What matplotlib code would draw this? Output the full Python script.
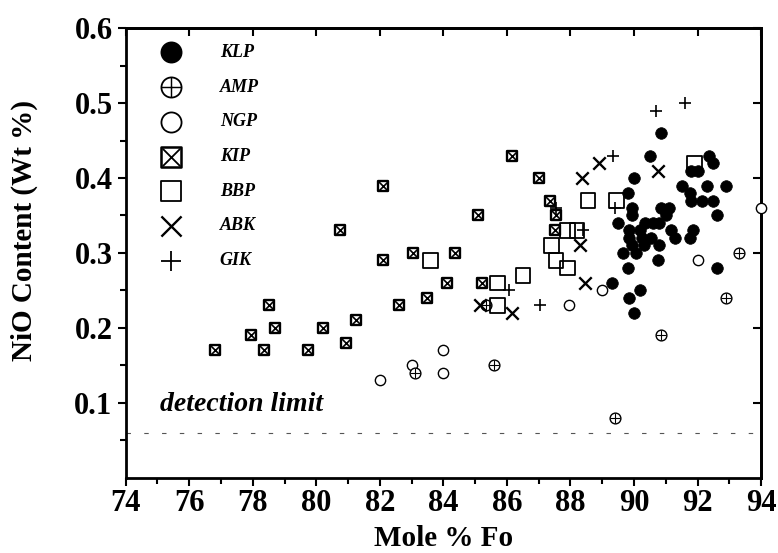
import numpy as np
import matplotlib as mpl
mpl.use('Agg')
import matplotlib.pyplot as plt

mpl.rcParams['font.family'] = 'Liberation Serif'
mpl.rcParams['font.weight'] = 'bold'

# olivine NiO vs forsterite content, one group per locality
klp_x = [90.85, 90.5, 92.35, 92.5, 91.8, 92.0, 90.0, 91.5, 92.3, 92.9,
         91.75, 89.8, 91.8, 92.15, 92.5, 89.95, 90.85, 91.1, 92.6, 89.95,
         91.0, 89.5, 90.35, 90.6, 90.8, 89.85, 90.2, 91.15, 91.85, 90.55,
         91.3, 91.75, 89.85, 90.25, 90.8, 89.95, 90.3, 89.65, 90.05, 90.75,
         89.8, 92.6, 89.3, 90.2, 89.85, 90.0]
klp_y = [0.46, 0.43, 0.43, 0.42, 0.41, 0.41, 0.40, 0.39, 0.39, 0.39,
         0.38, 0.38, 0.37, 0.37, 0.37, 0.36, 0.36, 0.36, 0.35, 0.35,
         0.35, 0.34, 0.34, 0.34, 0.34, 0.33, 0.33, 0.33, 0.33, 0.32,
         0.32, 0.32, 0.32, 0.32, 0.31, 0.31, 0.31, 0.30, 0.30, 0.29,
         0.28, 0.28, 0.26, 0.25, 0.24, 0.22]

amp_x = [83.1, 85.6, 85.35, 89.4, 93.3, 92.9, 90.85]
amp_y = [0.14, 0.15, 0.23, 0.08, 0.30, 0.24, 0.19]

ngp_x = [82.0, 83.0, 84.0, 84.0, 87.95, 89.0, 92.0, 94.0]
ngp_y = [0.13, 0.15, 0.17, 0.14, 0.23, 0.25, 0.29, 0.36]

kip_x = [76.8, 77.95, 78.35, 78.5, 78.7, 79.75, 80.2, 80.95, 81.25, 80.75,
         82.1, 82.1, 82.6, 83.05, 83.5, 84.1, 84.35, 85.1, 85.2, 86.15,
         87.0, 87.35, 87.55, 87.5]
kip_y = [0.17, 0.19, 0.17, 0.23, 0.20, 0.17, 0.20, 0.18, 0.21, 0.33,
         0.39, 0.29, 0.23, 0.30, 0.24, 0.26, 0.30, 0.35, 0.26, 0.43,
         0.40, 0.37, 0.35, 0.33]

bbp_x = [83.6, 85.7, 85.7, 86.5, 87.4, 87.55, 87.9, 87.9, 88.2, 88.55, 89.45, 91.9]
bbp_y = [0.29, 0.26, 0.23, 0.27, 0.31, 0.29, 0.28, 0.33, 0.33, 0.37, 0.37, 0.42]

abk_x = [85.15, 86.15, 88.45, 88.3, 88.35, 88.9, 90.75]
abk_y = [0.23, 0.22, 0.26, 0.31, 0.40, 0.42, 0.41]

gik_x = [89.35, 89.4, 88.4, 86.05, 87.05, 87.55, 90.7, 91.6]
gik_y = [0.43, 0.36, 0.33, 0.25, 0.23, 0.36, 0.49, 0.50]

groups = ['KLP', 'AMP', 'NGP', 'KIP', 'BBP', 'ABK', 'GIK']
detection_limit = 0.06

fig = plt.figure(figsize=(7.78, 5.53), dpi=100)
ax = fig.add_axes([0.1616, 0.1365, 0.8166, 0.8123])


def draw(axis, kind, x, y, s, lw, **kw):
    # each locality has its own symbol; some are built from two markers
    if kind == 'KLP':
        axis.scatter(x, y, s=s, marker='o', c='black', edgecolors='black', linewidths=lw, **kw)
    elif kind == 'AMP':
        axis.scatter(x, y, s=s, marker='o', facecolors='white', edgecolors='black', linewidths=lw, **kw)
        axis.scatter(x, y, s=s, marker='+', c='black', linewidths=lw * 0.8, **kw)
    elif kind == 'NGP':
        axis.scatter(x, y, s=s, marker='o', facecolors='white', edgecolors='black', linewidths=lw, **kw)
    elif kind == 'KIP':
        axis.scatter(x, y, s=s, marker='s', facecolors='white', edgecolors='black', linewidths=lw * 1.4, **kw)
        axis.scatter(x, y, s=s * 0.75, marker='x', c='black', linewidths=lw, **kw)
    elif kind == 'BBP':
        axis.scatter(x, y, s=s, marker='s', facecolors='none', edgecolors='black', linewidths=lw, **kw)
    elif kind == 'ABK':
        axis.scatter(x, y, s=s, marker='x', c='black', linewidths=lw * 1.3, **kw)
    elif kind == 'GIK':
        axis.scatter(x, y, s=s, marker='+', c='black', linewidths=lw, **kw)


draw(ax, 'NGP', ngp_x, ngp_y, 55, 1.0, zorder=3, clip_on=False)
draw(ax, 'AMP', amp_x, amp_y, 60, 1.0, zorder=3)
draw(ax, 'KIP', kip_x, kip_y, 55, 1.2, zorder=3)
draw(ax, 'BBP', bbp_x, bbp_y, 110, 1.3, zorder=3)
draw(ax, 'ABK', abk_x, abk_y, 80, 1.3, zorder=3)
draw(ax, 'GIK', gik_x, gik_y, 80, 1.2, zorder=3)
draw(ax, 'KLP', klp_x, klp_y, 70, 0.5, zorder=4)

# legend, drawn by hand in axes coordinates
for i, name in enumerate(groups):
    ly = 0.9465 - i * 0.0773
    draw(ax, name, [0.0713], [ly], 210, 1.3, transform=ax.transAxes, clip_on=False, zorder=5)
    ax.text(0.148, ly, name, transform=ax.transAxes, ha='left', va='center',
            fontsize=13, fontstyle='italic', fontweight='bold')

ax.axhline(detection_limit, color='#555555', lw=0.8, dashes=(4, 12), zorder=1)
ax.text(0.054, 0.081, 'detection limit', transform=ax.get_yaxis_transform(),
        ha='left', va='bottom', fontsize=20, fontstyle='italic', fontweight='bold')

ax.set_xlim(74, 94)
ax.set_ylim(0, 0.6)
ax.set_xticks(np.arange(74, 95, 2))
ax.set_xticks(np.arange(74, 95, 1), minor=True)
ax.set_yticks([0.1, 0.2, 0.3, 0.4, 0.5, 0.6])
ax.set_yticks(np.arange(0.05, 0.6, 0.1), minor=True)
ax.tick_params(which='both', direction='out', width=1.5, top=False, right=False)
ax.tick_params(which='major', length=6, labelsize=22)
ax.tick_params(which='minor', length=4)
ax.tick_params(axis='x', which='major', pad=2)
for lab in ax.get_xticklabels() + ax.get_yticklabels():
    lab.set_fontweight('bold')

# inward ticks on the top and right sides
sec_x = ax.secondary_xaxis('top')
sec_x.set_xticks(np.arange(74, 95, 2))
sec_x.tick_params(direction='in', length=6, width=1.5, labeltop=False)
sec_x.spines['top'].set_linewidth(2)
sec_y = ax.secondary_yaxis('right')
sec_y.set_yticks([0.1, 0.2, 0.3, 0.4, 0.5, 0.6])
sec_y.tick_params(direction='in', length=6, width=1.5, labelright=False)
sec_y.spines['right'].set_linewidth(2)

for sp in ax.spines.values():
    sp.set_linewidth(2)

ax.set_xlabel('Mole % Fo', fontsize=21, fontweight='bold', va='bottom')
ax.xaxis.set_label_coords(0.5, -0.166)
ax.set_ylabel('NiO Content (Wt %)', fontsize=21, fontweight='bold')
ax.yaxis.set_label_coords(-0.138, 0.55)

fig.savefig('out.png', dpi=100)
